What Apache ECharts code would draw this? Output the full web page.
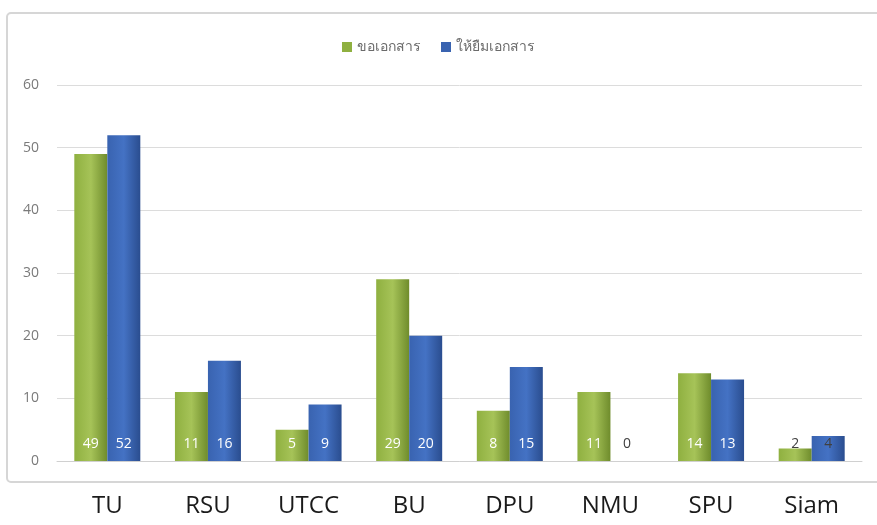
<!DOCTYPE html>
<html>
<head>
<meta charset="utf-8">
<script src="https://cdn.jsdelivr.net/npm/echarts@6/dist/echarts.min.js"></script>
<style>
  html, body { margin: 0; padding: 0; background: #fff; }
  #main { width: 877px; height: 525px; }
</style>
</head>
<body>
<div id="main"></div>
<script>
const categories = ['TU', 'RSU', 'UTCC', 'BU', 'DPU', 'NMU', 'SPU', 'Siam']
const requestDocs = [49, 11, 5, 29, 8, 11, 14, 2]
const lendDocs = [52, 16, 9, 20, 15, 0, 13, 4]
const seriesNames = ['ขอเอกสาร', 'ให้ยืมเอกสาร']
const yTicks = [0, 10, 20, 30, 40, 50, 60]

const chart = echarts.init(document.getElementById('main'))

// small values get dark labels, the rest white inside the bar
function withLabels(values) {
  return values.map(v => ({
    value: v,
    label: { color: v < 5 ? '#404040' : '#ffffff' }
  }))
}

function barColor(light, mid, dark) {
  return new echarts.graphic.LinearGradient(0, 0, 1, 0, [
    { offset: 0, color: mid },
    { offset: 0.5, color: light },
    { offset: 1, color: dark }
  ])
}

const option = {
  animation: false,
  graphic: [
    {
      type: 'rect',
      shape: { x: 7, y: 13, width: 880, height: 469, r: 4 },
      style: { fill: 'none', stroke: '#d6d6d6', lineWidth: 2 },
      silent: true
    }
  ],
  legend: {
    top: 35,
    left: 'center',
    itemWidth: 10,
    itemHeight: 10,
    itemGap: 20,
    icon: 'rect',
    textStyle: { color: '#6b6b6b', fontSize: 14, fontFamily: 'Noto Sans' },
    data: [
      { name: seriesNames[0], itemStyle: { color: '#8fb040' } },
      { name: seriesNames[1], itemStyle: { color: '#3963b0' } }
    ]
  },
  grid: {
    top: 85,
    left: 57,
    right: 15,
    bottom: 64
  },
  xAxis: {
    type: 'category',
    data: categories,
    axisLine: { lineStyle: { color: '#d0d0d0' } },
    axisTick: { show: false },
    axisLabel: {
      color: '#1a1a1a',
      fontSize: 24,
      margin: 33,
      fontFamily: 'Open Sans'
    }
  },
  yAxis: {
    type: 'value',
    min: yTicks[0],
    max: yTicks[yTicks.length - 1],
    interval: 10,
    axisLine: { show: false },
    axisTick: { show: false },
    splitLine: { lineStyle: { color: '#dcdcdc' } },
    axisLabel: {
      color: '#7a7a7a',
      fontSize: 14,
      margin: 18,
      fontFamily: 'Open Sans'
    }
  },
  series: [
    {
      name: seriesNames[0],
      type: 'bar',
      barWidth: 33,
      barGap: '0%',
      itemStyle: {
        color: barColor('#a6c358', '#8fb040', '#6f8c2c')
      },
      label: {
        show: true,
        position: 'insideBottom',
        distance: 10,
        fontSize: 14,
        fontFamily: 'Open Sans'
      },
      data: withLabels(requestDocs)
    },
    {
      name: seriesNames[1],
      type: 'bar',
      barWidth: 33,
      itemStyle: {
        color: barColor('#4472c4', '#3963b0', '#2a4d8f')
      },
      label: {
        show: true,
        position: 'insideBottom',
        distance: 10,
        fontSize: 14,
        fontFamily: 'Open Sans'
      },
      data: withLabels(lendDocs)
    }
  ]
}

chart.setOption(option)
</script>
</body>
</html>
